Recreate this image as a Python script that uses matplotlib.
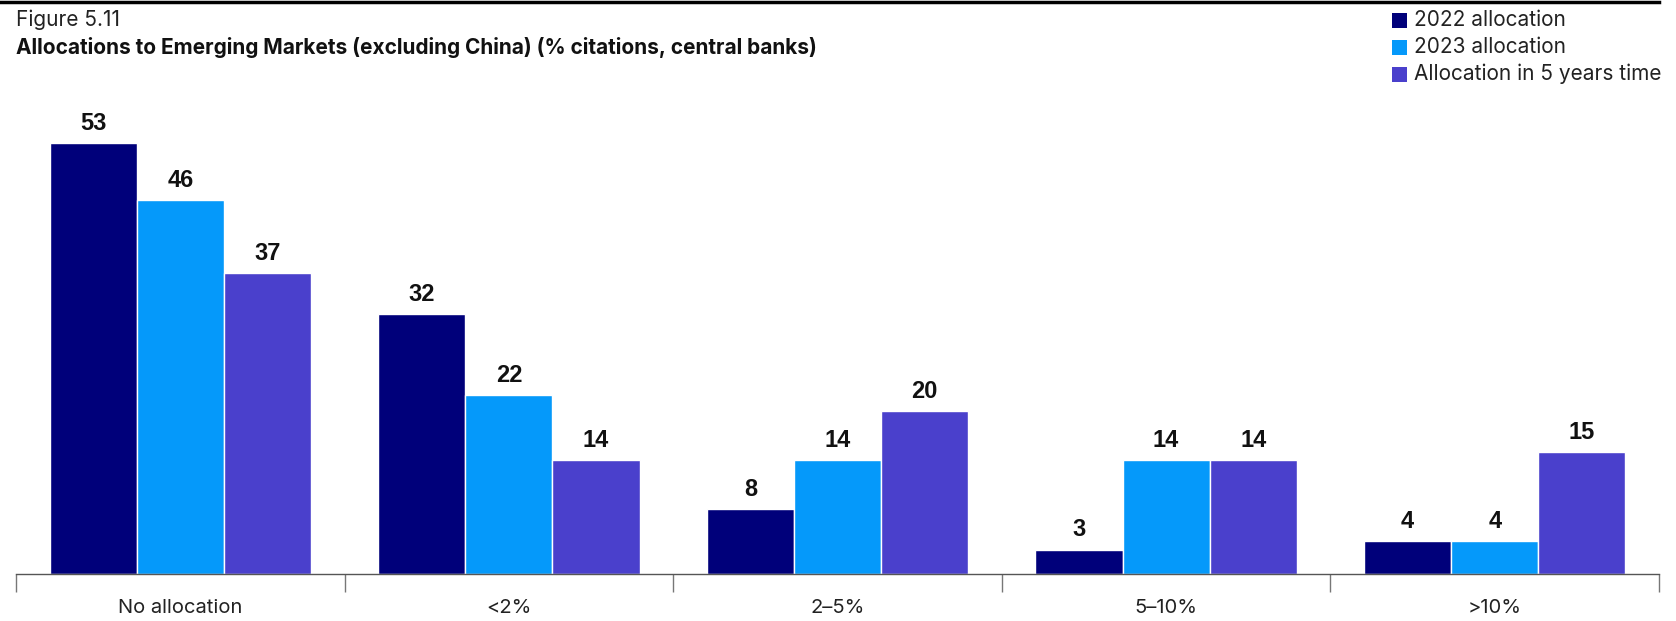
import matplotlib
matplotlib.use("Agg")
import matplotlib.pyplot as plt
import numpy as np
from matplotlib.patches import Rectangle

plt.rcParams["font.family"] = ["Inter", "DejaVu Sans"]

categories = ["No allocation", "<2%", "2\u20135%", "5\u201310%", ">10%"]
series_names = ["2022 allocation", "2023 allocation", "Allocation in 5 years time"]
alloc_2022 = [53, 32, 8, 3, 4]
alloc_2023 = [46, 22, 14, 14, 4]
alloc_5yrs = [37, 14, 20, 14, 15]
colors = ["#00007a", "#0599fa", "#4a40cc"]

W, H = 1676, 621
fig = plt.figure(figsize=(W / 100, H / 100), dpi=100)
ax = fig.add_axes([16 / W, 47 / H, (1659 - 16) / W, (574 - 80) / H])

x = np.arange(len(categories))
bw = 0.265
for i, (vals, col) in enumerate(zip([alloc_2022, alloc_2023, alloc_5yrs], colors)):
    pos = x + (i - 1) * bw
    ax.bar(pos, vals, width=bw, color=col, edgecolor="white", linewidth=1)
    for p, v in zip(pos, vals):
        ax.text(p, v + 1.0, str(v), ha="center", va="bottom", fontsize=17,
                fontweight="bold", family=["Liberation Sans", "DejaVu Sans"],
                color="#111111")

ax.set_xlim(-0.5, len(categories) - 0.5)
ax.set_ylim(0, (574 - 80) / 8.13)
for s in ["top", "right", "left"]:
    ax.spines[s].set_visible(False)
ax.spines["bottom"].set_color("#555555")
ax.spines["bottom"].set_linewidth(1)
ax.set_yticks([])
ax.set_xticks(x)
ax.set_xticklabels(categories, fontsize=14.5, color="#222222")
ax.tick_params(axis="x", which="major", length=0, pad=18)
ax.set_xticks(np.arange(-0.5, len(categories)), minor=True)
ax.tick_params(axis="x", which="minor", length=13, color="#777777", width=1)

# header
fig.add_artist(plt.Line2D([0, 1659 / W], [1 - 1.5 / H, 1 - 1.5 / H],
                          color="black", lw=2.5))
fig.text(16 / W, 1 - 20 / H, "Figure 5.11", fontsize=15, va="center",
         ha="left", color="#222222")
fig.text(16 / W, 1 - 48 / H,
         "Allocations to Emerging Markets (excluding China) (% citations, central banks)",
         fontsize=15, fontweight="bold", va="center", ha="left", color="#111111")

# legend
for i, (name, col) in enumerate(zip(series_names, colors)):
    yc = 1 - (20 + i * 27) / H
    fig.add_artist(Rectangle((1392 / W, yc - 8 / H), 15 / W, 15 / H,
                             facecolor=col, edgecolor="none",
                             transform=fig.transFigure))
    fig.text(1414 / W, yc, name, fontsize=15, va="center", ha="left",
             color="#222222")

fig.savefig("out.png", dpi=100, facecolor="white")
